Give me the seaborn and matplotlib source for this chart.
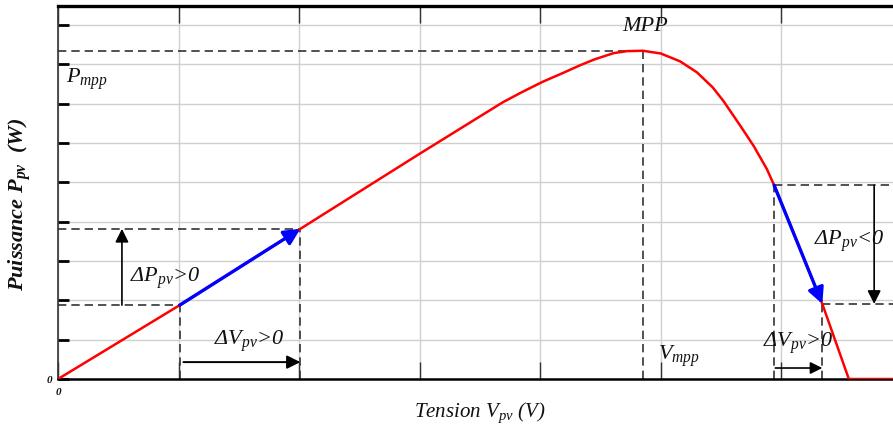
import matplotlib
matplotlib.use("Agg")
import matplotlib.pyplot as plt
import seaborn as sns
import pandas as pd

# P-V curve of the PV panel (grid units)
tension = [0, 1.01, 2.01, 3.0, 3.5, 3.69, 3.85, 4.02, 4.2, 4.33, 4.45, 4.61, 4.72, 4.85,
           5.0, 5.16, 5.3, 5.43, 5.52, 5.66, 5.77, 5.88, 5.94, 6.34, 6.56, 6.95]
puissance = [0, 1.88, 3.82, 5.73, 6.68, 7.04, 7.30, 7.56, 7.80, 7.98, 8.13, 8.29, 8.34, 8.35,
             8.28, 8.08, 7.80, 7.42, 7.07, 6.44, 5.93, 5.34, 4.93, 1.91, 0, 0]

# maximum power point
v_mpp, p_mpp = 4.85, 8.35
# operating points, left side (dP>0) and right side (dP<0)
left_pts = [(1.01, 1.88), (2.01, 3.82)]
right_pts = [(5.94, 4.93), (6.34, 1.91)]

x_max, y_max = 6.93, 9.5

df = pd.DataFrame({"V": tension, "P": puissance})

sns.set_style("whitegrid")
plt.rcParams["font.family"] = ["Liberation Serif", "DejaVu Serif"]
plt.rcParams["mathtext.fontset"] = "custom"
plt.rcParams["mathtext.it"] = "Liberation Serif:italic"
plt.rcParams["mathtext.rm"] = "Liberation Serif:italic"
plt.rcParams["mathtext.bf"] = "Liberation Serif:italic:bold"

fig = plt.figure(figsize=(8.93, 4.35), dpi=100)
ax = fig.add_axes([0.065, 0.1264, 0.9355, 0.8586])

sns.lineplot(data=df, x="V", y="P", sort=False, color="#ff0000", lw=1.8, ax=ax, zorder=3)

ax.set_xlim(0, x_max)
ax.set_ylim(0, y_max)
ax.set_xticks(range(0, 7))
ax.set_yticks(range(0, 10))
ax.grid(True, color="#cfcfcf", lw=1.0)
ax.tick_params(axis="both", which="both", direction="in", color="black",
               labelleft=False, labelbottom=False, top=True, left=True, bottom=True)
ax.tick_params(axis="y", length=8, width=2.0)
ax.tick_params(axis="x", length=12, width=1.0, color="#333333")
ax.set_xlabel("")
ax.set_ylabel("")

ax.spines["right"].set_visible(False)
ax.spines["top"].set_linewidth(2.4)
ax.spines["top"].set_color("black")
ax.spines["bottom"].set_linewidth(1.8)
ax.spines["bottom"].set_color("black")
ax.spines["left"].set_linewidth(1.2)
ax.spines["left"].set_color("#333333")

dash = dict(color="#333333", lw=1.2, linestyle=(0, (5, 3)), zorder=2)

# MPP dashed guides
ax.plot([0, v_mpp], [p_mpp, p_mpp], **dash)
ax.plot([v_mpp, v_mpp], [0, p_mpp], **dash)

# left side guides
for vx, py in left_pts:
    ax.plot([0, vx], [py, py], **dash)
    ax.plot([vx, vx], [0, py], **dash)

# right side guides
for vx, py in right_pts:
    ax.plot([vx, x_max], [py, py], **dash)
    ax.plot([vx, vx], [0, py], **dash)


def arrow(p0, p1, color, lw, ms):
    ax.annotate("", xy=p1, xytext=p0,
                arrowprops=dict(arrowstyle="-|>", color=color, lw=lw, mutation_scale=ms,
                                shrinkA=0, shrinkB=0), zorder=5)


# blue displacement along the curve
arrow(left_pts[0], left_pts[1], "#0000ff", 2.4, 24)
arrow(right_pts[0], right_pts[1], "#0000ff", 2.4, 24)

# black delta arrows
arrow((0.53, left_pts[0][1]), (0.53, left_pts[1][1]), "black", 1.2, 20)
arrow((1.04, 0.43), (left_pts[1][0], 0.43), "black", 1.4, 20)
arrow((6.77, right_pts[0][1]), (6.77, right_pts[1][1]), "black", 1.2, 20)
arrow((5.95, 0.28), (right_pts[1][0], 0.28), "black", 1.2, 18)

txt = dict(fontstyle="italic", fontsize=16, color="#111111", zorder=6)
ax.text(4.87, 9.0, "MPP", ha="center", va="center", **txt)
ax.text(0.07, 7.98, r"$P_{mpp}$", ha="left", va="top", **txt)
ax.text(0.6, 2.92, r"$\Delta P_{pv}$>0", ha="left", va="top", **txt)
ax.text(1.29, 1.30, r"$\Delta V_{pv}$>0", ha="left", va="top", **txt)
ax.text(4.98, 0.93, r"$V_{mpp}$", ha="left", va="top", **txt)
ax.text(6.27, 3.85, r"$\Delta P_{pv}$<0", ha="left", va="top", **txt)
ax.text(5.85, 1.25, r"$\Delta V_{pv}$>0", ha="left", va="top", **txt)

zero = dict(fontstyle="italic", fontweight="bold", fontsize=8, color="#111111", clip_on=False)
ax.text(-0.05, 0, "0", ha="right", va="center", **zero)
ax.text(0, -0.2, "0", ha="center", va="top", **zero)

fig.text(0.537, 0.052, r"Tension $V_{pv}$ (V)", ha="center", va="center",
         fontstyle="italic", fontsize=15, color="#111111")
fig.text(0.022, 0.53, r"Puissance $\mathbf{P_{pv}}$  (W)", ha="center", va="center",
         rotation=90, fontstyle="italic", fontweight="bold", fontsize=16, color="#111111")

fig.savefig("out.png", dpi=100)
